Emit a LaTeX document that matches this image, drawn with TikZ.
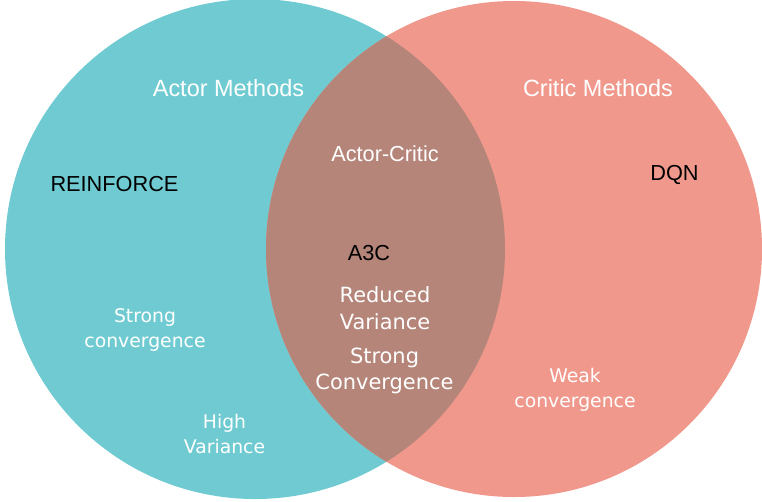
\documentclass[tikz,border=0pt]{standalone}
\usepackage{fontspec}
\setmainfont{Liberation Sans}
\newfontfamily\dejavu{DejaVu Sans}
\usepackage{tikz}
\usetikzlibrary{positioning}
\definecolor{actorcol}{RGB}{111,203,209}
\definecolor{criticcol}{RGB}{240,152,140}
\definecolor{bothcol}{RGB}{181,133,122}

\begin{document}
\begin{tikzpicture}[x=0.75pt, y=-0.75pt,
    title/.style={white, font=\fontsize{17.6}{20}\selectfont},
    algo/.style={black, font=\fontsize{16.3}{20}\selectfont},
    prop/.style={white, align=center, font=\dejavu\fontsize{14.1}{19}\selectfont},
    midprop/.style={white, align=center, font=\dejavu\fontsize{15.7}{20}\selectfont}]
  \useasboundingbox (0,0) rectangle (762,501);
  % the two sets and their overlap
  \fill[actorcol] (255,249) circle (250);
  \fill[criticcol] (514,249) circle (248);
  \begin{scope}
    \clip (255,249) circle (250);
    \fill[bothcol] (514,249) circle (248);
  \end{scope}
  % set names
  \node[title] (actor) at (228.5,88) {Actor Methods};
  \node[title] (critic) at (598,88) {Critic Methods};
  \node[title, font=\fontsize{16.3}{20}\selectfont] (ac) at (385,154) {Actor-Critic};
  % algorithms
  \node[algo] (reinforce) at (114.5,184) {REINFORCE};
  \node[algo] (dqn) at (674.5,175) {DQN};
  \node[algo] (athreec) at (369,253) {A3C};
  % properties
  \node[prop] (strongl) at (145,330) {Strong\\convergence};
  \node[prop] (highvar) at (224.5,434) {High\\Variance};
  \node[prop] (weak) at (575,390) {Weak\\convergence};
  \node[midprop] (redvar) at (385,308) {Reduced\\Variance};
  \node[midprop] (strongm) at (384.5,371) {Strong\\Convergence};
\end{tikzpicture}
\end{document}
